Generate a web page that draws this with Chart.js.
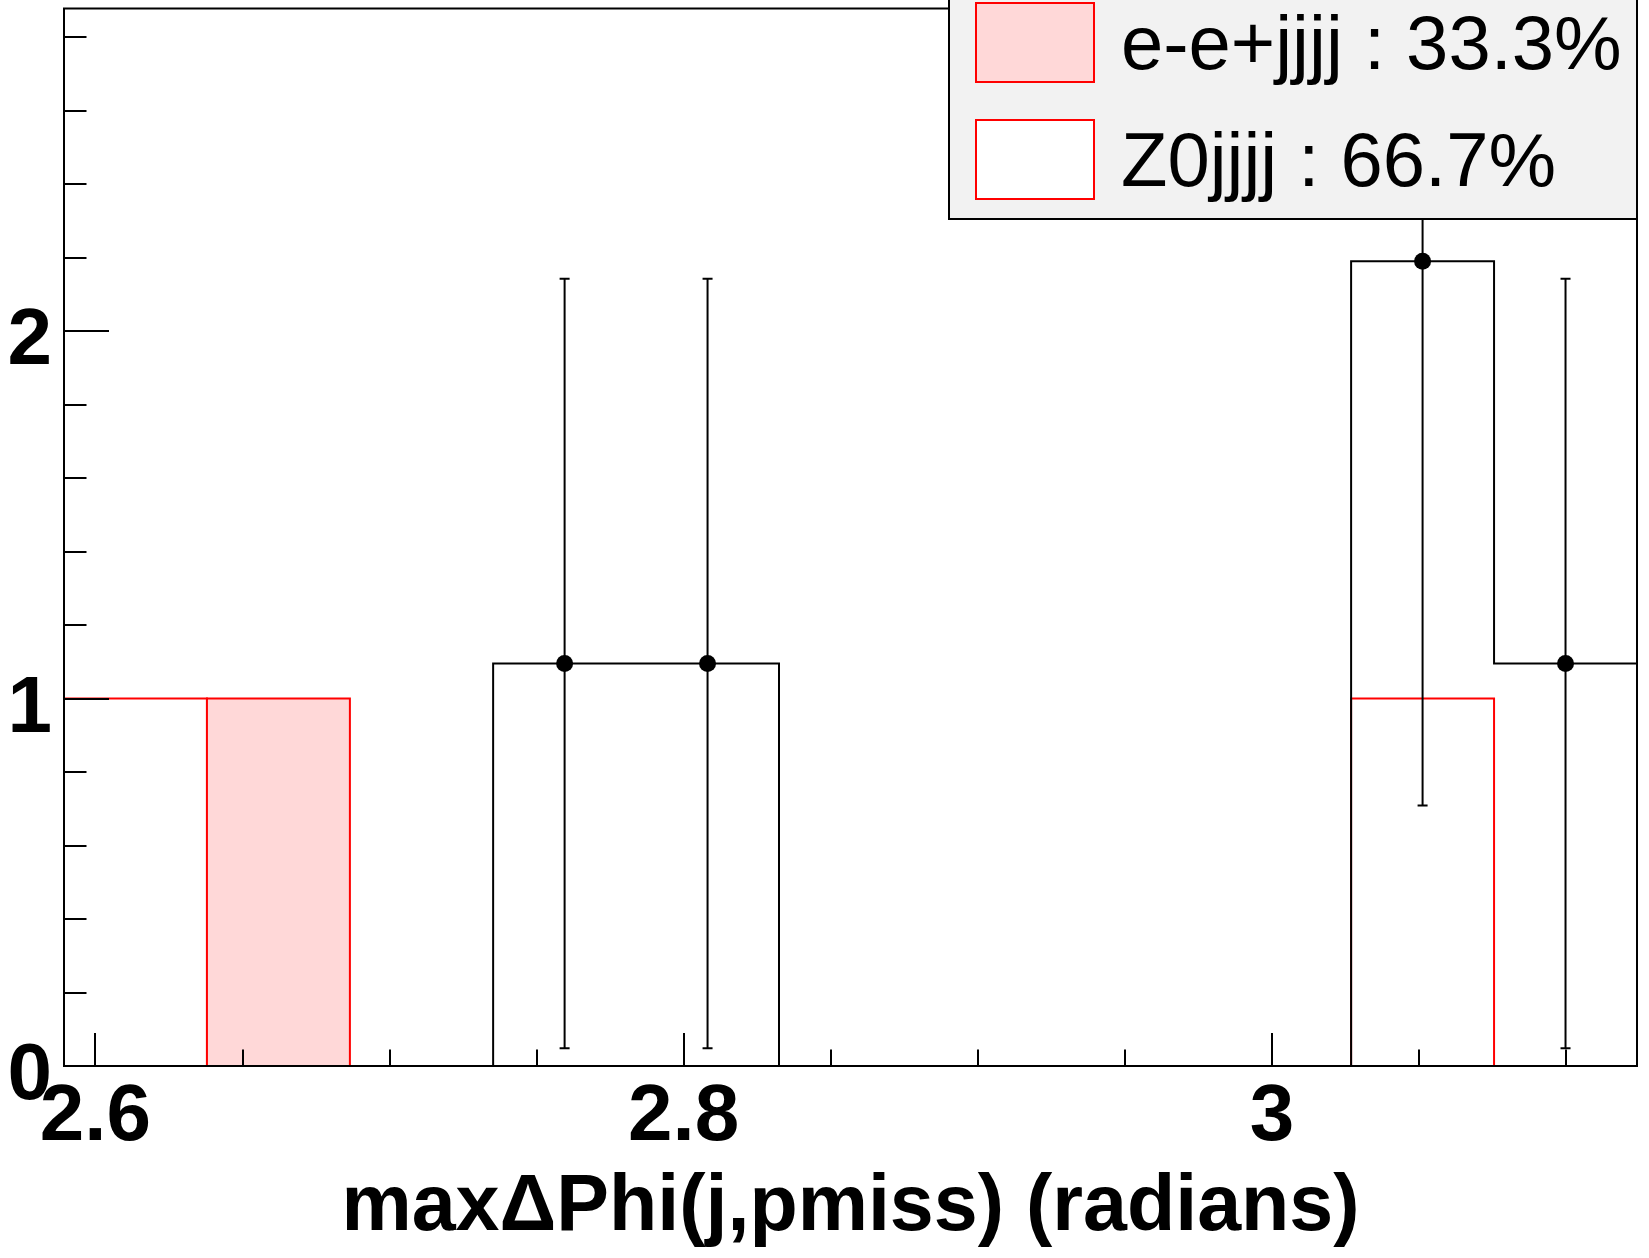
<!DOCTYPE html>
<html>
<head>
<meta charset="utf-8">
<script src="https://cdn.jsdelivr.net/npm/chart.js@4.4.1/dist/chart.umd.min.js"></script>
<style>
  body { margin: 0; background: #fff; }
  #wrap { position: relative; width: 1649px; height: 1258px; overflow: hidden; }
  #legend {
    position: absolute; left: 948px; top: -20px; width: 690px; height: 240px;
    box-sizing: border-box; border: 2px solid #000; background: #f2f2f2;
    font-family: "Liberation Sans", Arial, sans-serif; font-size: 76px; color: #000;
  }
  .row { position: absolute; left: 25px; height: 81px; }
  .swatch { position: absolute; left: 0; top: 0; width: 120px; height: 81px; box-sizing: border-box; border: 2px solid #ff0000; }
  .label { position: absolute; left: 146px; top: 0; line-height: 81px; white-space: nowrap; }
</style>
</head>
<body>
<div id="wrap">
  <canvas id="hist" width="1649" height="1258"></canvas>
  <div id="legend"></div>
</div>
<script>
// bin edges of the histogram (radians)
const binEdges = [2.5893, 2.6379, 2.6865, 2.7352, 2.7838, 2.8324, 2.8810, 2.9296, 2.9782, 3.0269, 3.0755, 3.1241];

// per-bin contents
const eeValues = [0, 1, 0, 0, 0, 0, 0, 0, 0, 0, 0];
const z0Values = [1, 0, 0, 0, 0, 0, 0, 0, 0, 1, 0];
const dataValues = [0, 0, 0, 1.095, 1.095, 0, 0, 0, 0, 2.19, 1.095];
const dataErrors = [0, 0, 0, 1.047, 1.047, 0, 0, 0, 0, 1.481, 1.047];

const legendLabels = ["e-e+jjjj : 33.3%", "Z0jjjj : 66.7%"];
const legendFills = ["rgb(255,216,216)", "#ffffff"];

const xTickValues = [2.6, 2.8, 3.0];
const xTickLabels = ["2.6", "2.8", "3"];
const yTickValues = [0, 1, 2];
const yTickLabels = ["0", "1", "2"];
const xTitle = "maxΔPhi(j,pmiss) (radians)";
const yMax = 2.8777;

// histogram outline as step points on the bin edges
function stepPoints(vals) {
  var pts = [];
  for (var i = 0; i < vals.length; i++) {
    pts.push({ x: binEdges[i], y: vals[i] });
  }
  pts.push({ x: binEdges[vals.length], y: vals[vals.length - 1] });
  return pts;
}

var pointData = [];
var capData = [];
var errorSegs = [];
for (var i = 0; i < dataValues.length; i++) {
  if (dataValues[i] <= 0) continue;
  var c = (binEdges[i] + binEdges[i + 1]) / 2;
  pointData.push({ x: c, y: dataValues[i] });
  capData.push({ x: c, y: dataValues[i] - dataErrors[i] });
  capData.push({ x: c, y: dataValues[i] + dataErrors[i] });
  errorSegs.push({ x: c, y: dataValues[i] - dataErrors[i] });
  errorSegs.push({ x: c, y: dataValues[i] + dataErrors[i] });
  errorSegs.push({ x: c, y: null });
}

// ROOT style frame with inward ticks
const rootAxes = {
  id: "rootAxes",
  afterDatasetsDraw(chart) {
    const ctx = chart.ctx;
    const a = chart.chartArea;
    const x = chart.scales.x;
    const y = chart.scales.y;
    ctx.save();
    ctx.strokeStyle = "#000";
    ctx.lineWidth = 2;
    ctx.beginPath();
    for (let k = 0; k * 0.2 <= y.max + 1e-9; k++) {
      const py = Math.round(y.getPixelForValue(k * 0.2));
      const len = (k % 5 === 0) ? 45 : 22.5;
      ctx.moveTo(a.left, py);
      ctx.lineTo(a.left + len, py);
    }
    for (let k = 52; k <= 62; k++) {
      const px = Math.round(x.getPixelForValue(k * 0.05));
      const len = (k % 4 === 0) ? 33 : 16.5;
      ctx.moveTo(px, a.bottom);
      ctx.lineTo(px, a.bottom - len);
    }
    ctx.stroke();
    ctx.strokeRect(a.left, a.top, a.right - a.left, a.bottom - a.top);
    ctx.restore();
  }
};

const tickFont = { family: "'Liberation Sans', Arial, sans-serif", weight: "bold", size: 80, lineHeight: 1 };

new Chart(document.getElementById("hist"), {
  type: "line",
  data: {
    datasets: [
      { data: pointData, showLine: false, pointRadius: 8.5, pointBackgroundColor: "#000", pointBorderWidth: 0 },
      { data: capData, showLine: false, pointStyle: "line", pointRadius: 5, pointBorderColor: "#000", pointBorderWidth: 2 },
      { data: errorSegs, borderColor: "#000", borderWidth: 2, pointRadius: 0, spanGaps: false },
      { data: stepPoints(dataValues), stepped: true, borderColor: "#000", borderWidth: 2, pointRadius: 0, fill: false },
      { data: stepPoints(eeValues), stepped: true, borderColor: "#ff0000", borderWidth: 2, pointRadius: 0, fill: "origin", backgroundColor: legendFills[0] },
      { data: stepPoints(z0Values), stepped: true, borderColor: "#ff0000", borderWidth: 2, pointRadius: 0, fill: false }
    ]
  },
  options: {
    responsive: false,
    devicePixelRatio: 1,
    animation: false,
    events: [],
    layout: { padding: { top: 7, right: 12, left: 0, bottom: 0 } },
    plugins: { legend: { display: false }, tooltip: { enabled: false } },
    scales: {
      x: {
        type: "linear",
        min: binEdges[0],
        max: binEdges[binEdges.length - 1],
        grid: { display: false, drawTicks: false },
        border: { display: false },
        afterBuildTicks: function (s) { s.ticks = xTickValues.map(function (v) { return { value: v }; }); },
        afterFit: function (s) { s.height = 192; s.paddingLeft = 0; s.paddingRight = 0; },
        ticks: {
          autoSkip: false, maxRotation: 0, padding: 12, color: "#000", font: tickFont,
          callback: function (v, i) { return xTickLabels[i]; }
        },
        title: {
          display: true, text: xTitle, color: "#000",
          font: { family: "'Liberation Sans', Arial, sans-serif", weight: "bold", size: 79, lineHeight: 1 },
          padding: { top: 0, bottom: 10 }
        }
      },
      y: {
        type: "linear",
        min: 0,
        max: yMax,
        grid: { display: false, drawTicks: false },
        border: { display: false },
        afterBuildTicks: function (s) { s.ticks = yTickValues.map(function (v) { return { value: v }; }); },
        afterFit: function (s) { s.width = 64; s.paddingTop = 0; s.paddingBottom = 0; },
        ticks: {
          autoSkip: false, padding: 12, labelOffset: 11, color: "#000", font: tickFont,
          callback: function (v, i) { return yTickLabels[i]; }
        }
      }
    }
  },
  plugins: [rootAxes]
});

// legend box
var leg = document.getElementById("legend");
var rowTops = [20, 137];
legendLabels.forEach(function (txt, i) {
  var row = document.createElement("div");
  row.className = "row";
  row.style.top = rowTops[i] + "px";
  var sw = document.createElement("div");
  sw.className = "swatch";
  sw.style.background = legendFills[i];
  var lb = document.createElement("div");
  lb.className = "label";
  lb.textContent = txt;
  row.appendChild(sw);
  row.appendChild(lb);
  leg.appendChild(row);
});
</script>
</body>
</html>
